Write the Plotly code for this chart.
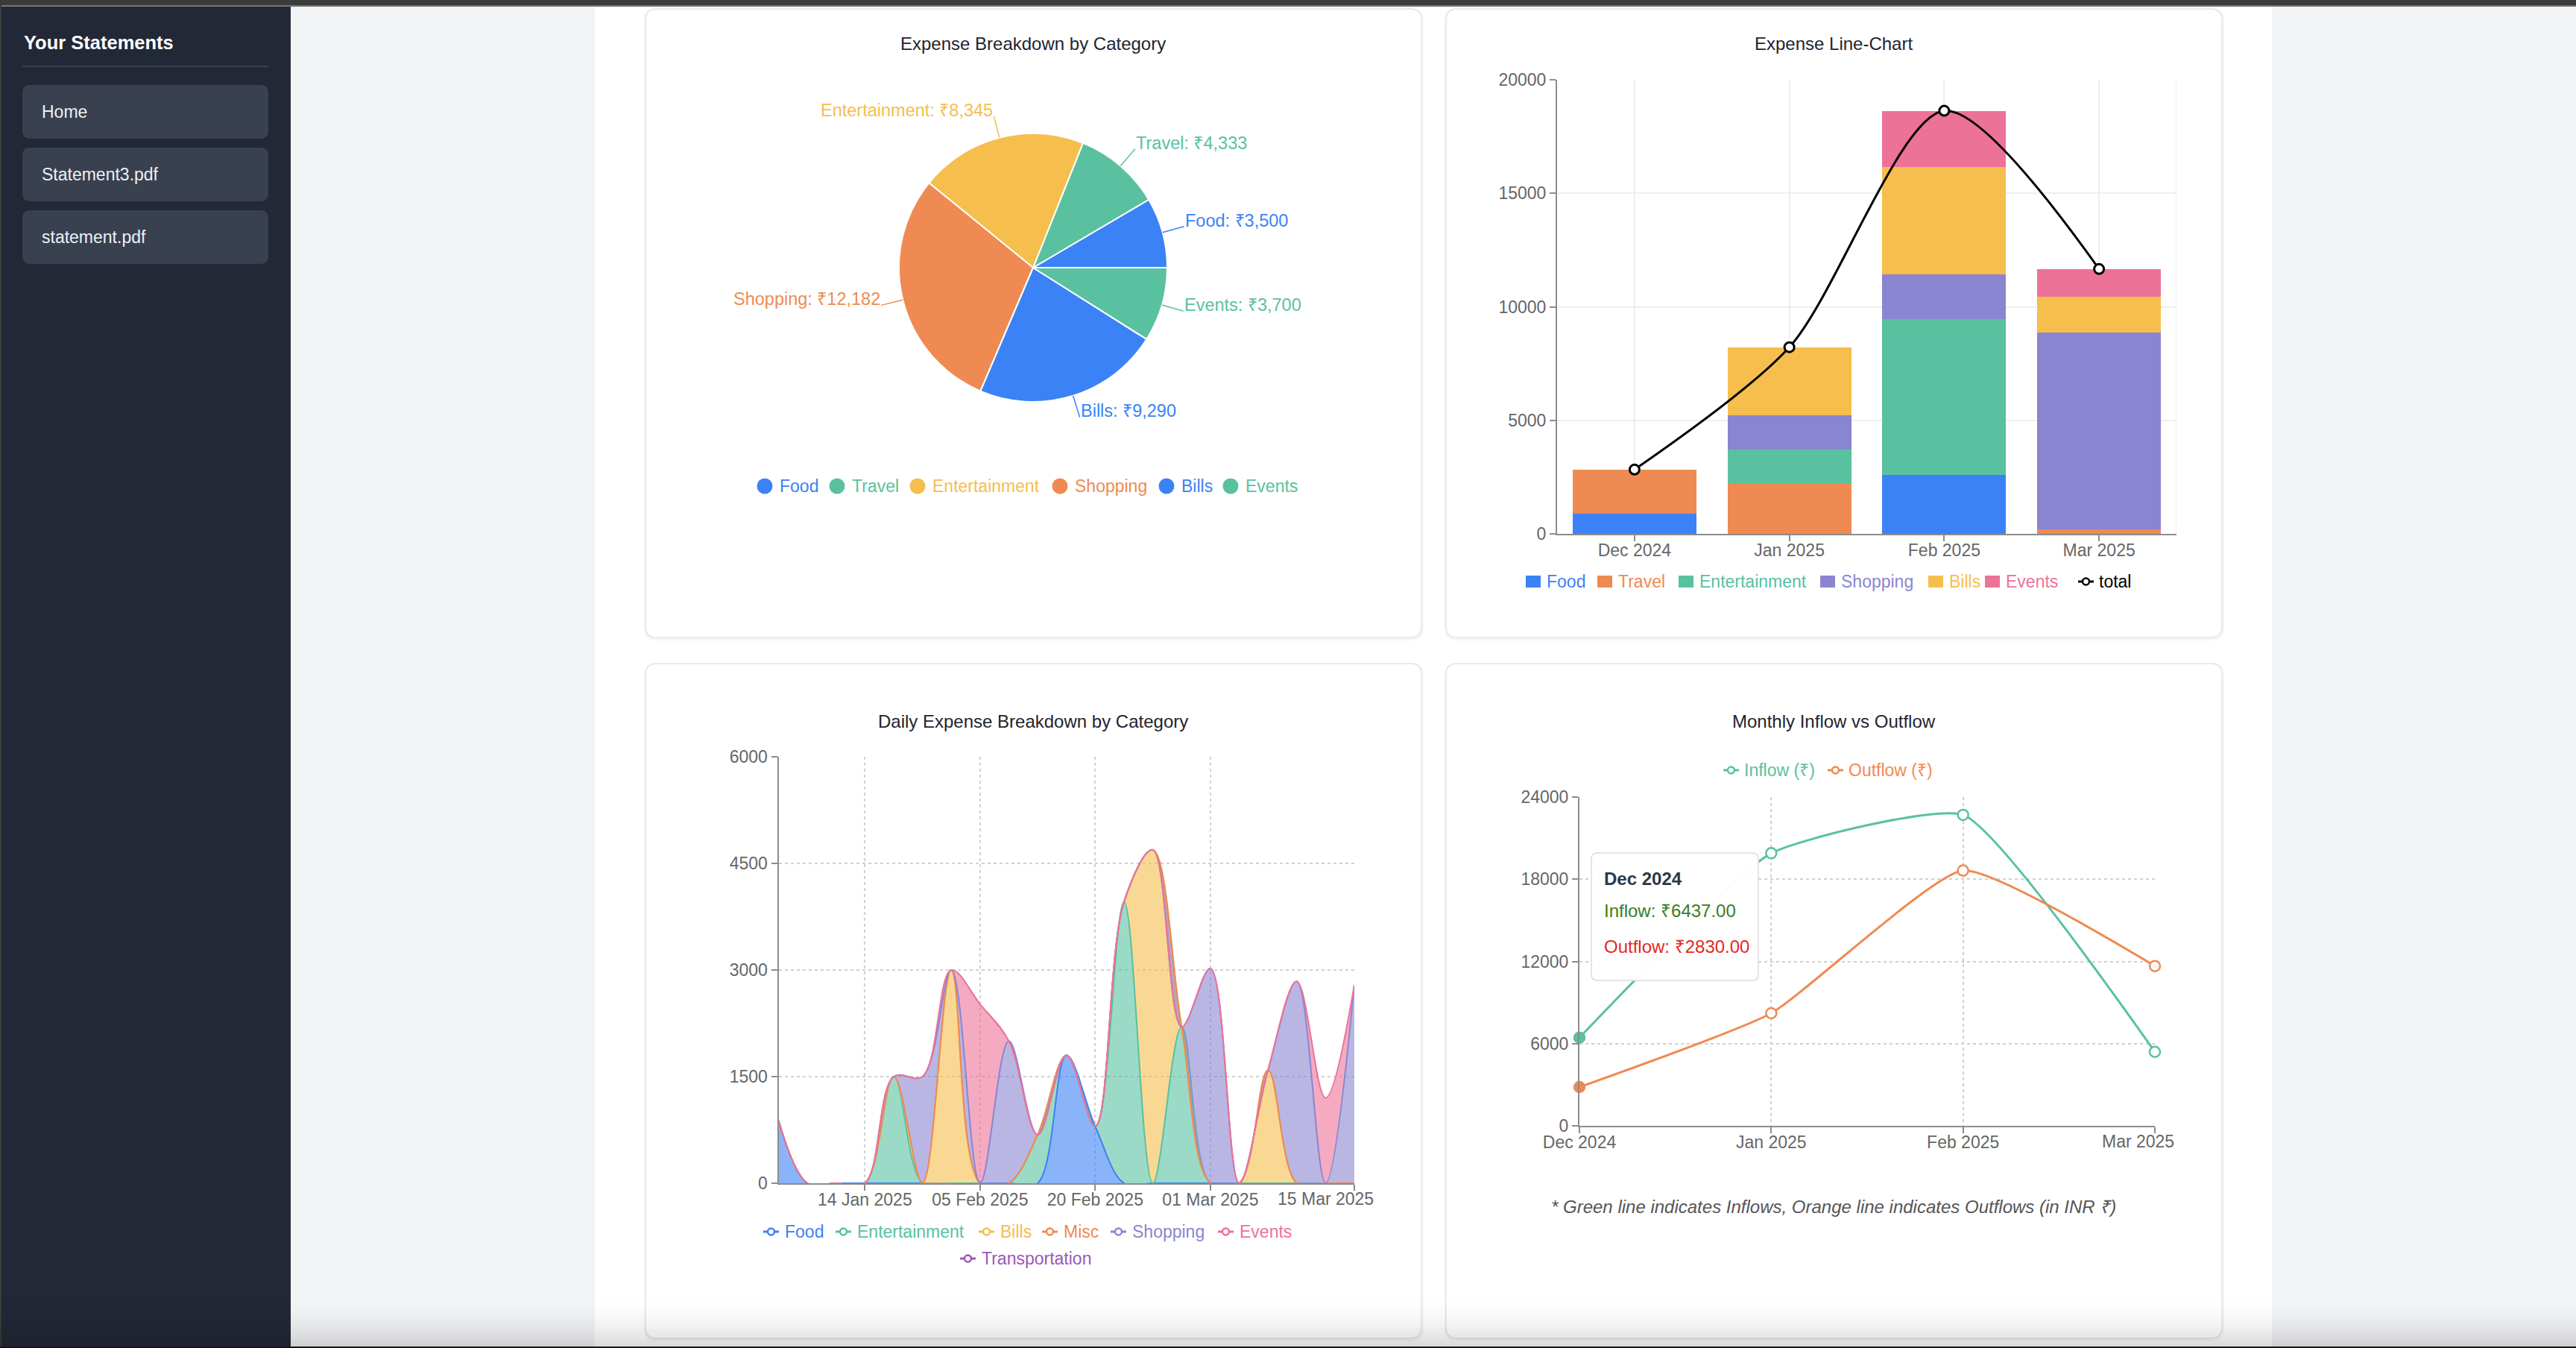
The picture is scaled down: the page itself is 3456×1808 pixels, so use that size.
import math
import plotly.graph_objects as go

# ---------------- data ----------------
pie_labels = ["Food", "Travel", "Entertainment", "Shopping", "Bills", "Events"]
pie_values = [3500, 4333, 8345, 12182, 9290, 3700]

months = ["Dec 2024", "Jan 2025", "Feb 2025", "Mar 2025"]
bar_series = ["Food", "Travel", "Entertainment", "Shopping", "Bills", "Events"]
bar_food = [900, 0, 2600, 0]
bar_travel = [1930, 2220, 0, 183]
bar_entertainment = [0, 1500, 6845, 0]
bar_shopping = [0, 1500, 2000, 8682]
bar_bills = [0, 3000, 4700, 1590]
bar_events = [0, 0, 2490, 1210]
total_name = "total"
bar_y_ticks = [0, 5000, 10000, 15000, 20000]

daily_dates = ["29 Dec 2024", "03 Jan 2025", "08 Jan 2025", "14 Jan 2025", "18 Jan 2025",
               "24 Jan 2025", "30 Jan 2025", "05 Feb 2025", "09 Feb 2025", "13 Feb 2025",
               "17 Feb 2025", "20 Feb 2025", "22 Feb 2025", "24 Feb 2025", "27 Feb 2025",
               "01 Mar 2025", "04 Mar 2025", "07 Mar 2025", "10 Mar 2025", "12 Mar 2025",
               "15 Mar 2025"]
daily_series = ["Food", "Entertainment", "Bills", "Misc", "Shopping", "Events", "Transportation"]
daily_food =          [880, 0, 0, 0, 0, 0, 0, 0, 0, 0, 1800, 800, 0, 0, 0, 0, 0, 0, 0, 0, 0]
daily_entertainment = [0, 0, 0, 0, 1500, 0, 0, 0, 0, 680, 0, 0, 3960, 0, 2200, 0, 0, 0, 0, 0, 0]
daily_bills =         [0, 0, 0, 0, 0, 0, 3000, 0, 0, 0, 0, 0, 0, 4690, 0, 0, 0, 1590, 0, 0, 0]
daily_misc =          [0, 0, 0, 0, 0, 0, 0, 0, 0, 0, 0, 0, 0, 0, 0, 0, 0, 0, 0, 0, 0]
daily_shopping =      [0, 0, 0, 0, 0, 1500, 0, 0, 2000, 0, 0, 0, 0, 0, 0, 3020, 0, 0, 2840, 0, 2790]
daily_events =        [0, 0, 0, 0, 0, 0, 0, 2520, 0, 0, 0, 0, 0, 0, 0, 0, 0, 0, 0, 1200, 0]
daily_transport =     [0, 0, 0, 0, 0, 0, 0, 0, 0, 0, 0, 0, 0, 0, 0, 0, 0, 0, 0, 0, 0]
daily_tick_labels = ["14 Jan 2025", "05 Feb 2025", "20 Feb 2025", "01 Mar 2025", "15 Mar 2025"]
daily_y_ticks = [0, 1500, 3000, 4500, 6000]

flow_names = ["Inflow (₹)", "Outflow (₹)"]
inflow = [6437, 19900, 22700, 5400]
outflow = [2830, 8220, 18635, 11665]
flow_y_ticks = [0, 6000, 12000, 18000, 24000]

sidebar_title = "Your Statements"
statements = ["Home", "Statement3.pdf", "statement.pdf"]

titles = ["Expense Breakdown by Category", "Expense Line-Chart",
          "Daily Expense Breakdown by Category", "Monthly Inflow vs Outflow"]
footnote = "* Green line indicates Inflows, Orange line indicates Outflows (in INR ₹)"

# ---------------- style ----------------
W, H = 3456, 1808
FONT = "Liberation Sans, Helvetica, Arial, sans-serif"
BLUE, GREEN, YELLOW = "#3b82f6", "#59c1a0", "#f5be4d"
ORANGE, PURPLE, PINK, VIOLET = "#ef8a52", "#8a85d1", "#ed7298", "#9b59b6"
TICK = "#666666"
AXIS = "#8c8c8c"

pie_colors = [BLUE, GREEN, YELLOW, ORANGE, BLUE, GREEN]
bar_colors = [BLUE, ORANGE, GREEN, PURPLE, YELLOW, PINK]
daily_colors = [BLUE, GREEN, YELLOW, ORANGE, PURPLE, PINK, VIOLET]
flow_colors = [GREEN, ORANGE]


def X(p):
    return p / W


def Y(p):
    return 1 - p / H


def rgba(hexc, a):
    h = hexc.lstrip("#")
    return "rgba(%d,%d,%d,%.2f)" % (int(h[0:2], 16), int(h[2:4], 16), int(h[4:6], 16), a)


shapes, annotations = [], []
NONE = "rgba(0,0,0,0)"


def add_rect(x0, y0, x1, y1, fill, line_color=None, lw=0, layer="below"):
    shapes.append(dict(type="rect", xref="paper", yref="paper", x0=X(x0), x1=X(x1),
                       y0=Y(y1), y1=Y(y0), fillcolor=fill,
                       line=dict(color=line_color or NONE, width=lw), layer=layer))


def add_rrect(x0, y0, x1, y1, r, fill, line_color=None, lw=0, layer="below"):
    def P(x, y):
        return "%.6f,%.6f" % (X(x), Y(y))
    path = ("M %s L %s Q %s %s L %s Q %s %s L %s Q %s %s L %s Q %s %s Z" % (
        P(x0 + r, y0), P(x1 - r, y0), P(x1, y0), P(x1, y0 + r),
        P(x1, y1 - r), P(x1, y1), P(x1 - r, y1), P(x0 + r, y1),
        P(x0, y1), P(x0, y1 - r), P(x0, y0 + r), P(x0, y0), P(x0 + r, y0)))
    shapes.append(dict(type="path", xref="paper", yref="paper", path=path, fillcolor=fill,
                       line=dict(color=line_color or NONE, width=lw), layer=layer))


def add_line(x0, y0, x1, y1, color, width, layer="above"):
    shapes.append(dict(type="line", xref="paper", yref="paper", x0=X(x0), y0=Y(y0),
                       x1=X(x1), y1=Y(y1), line=dict(color=color, width=width), layer=layer))


def add_circle(cx, cy, r, fill, line_color=None, lw=0, layer="above"):
    shapes.append(dict(type="circle", xref="paper", yref="paper", x0=X(cx - r), x1=X(cx + r),
                       y0=Y(cy + r), y1=Y(cy - r), fillcolor=fill,
                       line=dict(color=line_color or NONE, width=lw), layer=layer))


def add_text(x, y, s, size=23, color=TICK, xanchor="left", yanchor="middle"):
    annotations.append(dict(xref="paper", yref="paper", x=X(x), y=Y(y), text=s, showarrow=False,
                            xanchor=xanchor, yanchor=yanchor, borderpad=0,
                            font=dict(family=FONT, size=size, color=color)))


# ---------------- page chrome ----------------
add_rect(0, 0, W, 8, "#3b3b3b")
add_rect(0, 7, W, 9, "#777777")
add_rect(0, 9, 390, H, "#222836")
add_rect(0, 0, 2, H, "#3b3b3b")
add_rect(798, 9, 3048, H, "#ffffff")

add_text(31, 57, "<b>%s</b>" % sidebar_title, size=25.5, color="#ffffff")
add_line(30, 89, 360, 89, "#3a4252", 2, layer="below")
btn_tops = [114, 198, 282]
for name, top in zip(statements, btn_tops):
    add_rrect(30, top, 360, top + 72, 11, "#394050")
    add_text(55, top + 36, name, size=23, color="#eef0f3")

cards = [(866, 12, 1907, 855), (1940, 12, 2981, 855), (866, 890, 1907, 1795), (1940, 890, 2981, 1795)]
for (x0, y0, x1, y1) in cards:
    add_rrect(x0 - 2, y0 - 1, x1 + 3, y1 + 4, 16, "rgba(0,0,0,0.035)")
    add_rrect(x0, y0, x1, y1, 15, "#ffffff", "#e3e5e9", 1.5)

title_pos = [(1386, 59), (2460, 59), (1386, 967), (2460, 967)]
for t, (tx, ty) in zip(titles, title_pos):
    add_text(tx, ty, t, size=24, color="#1f2430", xanchor="center")

fig = go.Figure()

# ---------------- pie ----------------
PIE_CX, PIE_CY, PIE_R = 1386, 359, 180
pie_total = sum(pie_values)
fig.add_trace(go.Pie(
    labels=pie_labels, values=pie_values, sort=False, direction="counterclockwise",
    rotation=90 - pie_values[0] / pie_total * 360,
    domain=dict(x=[X(PIE_CX - PIE_R), X(PIE_CX + PIE_R)], y=[Y(PIE_CY + PIE_R), Y(PIE_CY - PIE_R)]),
    marker=dict(colors=pie_colors, line=dict(color="white", width=2)),
    textinfo="none", hoverinfo="skip", showlegend=False))

cum = 0
for lab, val, col in zip(pie_labels, pie_values, pie_colors):
    mid = (cum + val / 2) / pie_total * 2 * math.pi
    cum += val
    ca, sa = math.cos(mid), math.sin(mid)
    lx0, ly0 = PIE_CX + PIE_R * ca, PIE_CY - PIE_R * sa
    lx1, ly1 = PIE_CX + (PIE_R + 30) * ca, PIE_CY - (PIE_R + 30) * sa
    add_line(lx0, ly0, lx1, ly1, col, 1.5)
    add_text(lx1, ly1 - 8, "%s: ₹%s" % (lab, format(val, ",")), size=23.5, color=col,
             xanchor="left" if ca >= 0 else "right")

pie_leg_cx = [1026, 1123, 1231, 1422, 1565, 1651]
for lab, col, cx in zip(pie_labels, pie_colors, pie_leg_cx):
    add_circle(cx, 652, 10.5, col)
    add_text(cx + 19, 652, lab, size=23, color=col)

# ---------------- stacked bar + total ----------------
bar_data = [bar_food, bar_travel, bar_entertainment, bar_shopping, bar_bills, bar_events]
for name, vals, col in zip(bar_series, bar_data, bar_colors):
    fig.add_trace(go.Bar(x=months, y=vals, name=name, marker=dict(color=col, line=dict(width=0)),
                         xaxis="x", yaxis="y", showlegend=False, hoverinfo="skip"))
totals = [sum(v) for v in zip(*bar_data)]
fig.add_trace(go.Scatter(x=months, y=totals, name=total_name, mode="lines+markers",
                         line=dict(color="black", width=3, shape="spline", smoothing=0.8),
                         marker=dict(size=13, color="white", line=dict(color="black", width=3)),
                         xaxis="x", yaxis="y", showlegend=False, hoverinfo="skip", cliponaxis=False))
shapes.append(dict(type="line", xref="x", yref="y", x0=3.5, x1=3.5, y0=0, y1=20000,
                   line=dict(color="#eeeeee", width=2), layer="below"))

bar_leg_x = [2047, 2143, 2252, 2442, 2587, 2663]
for lab, col, lx in zip(bar_series, bar_colors, bar_leg_x):
    add_rect(lx, 772, lx + 20, 788, col, layer="above")
    add_text(lx + 27, 780, lab, size=23, color=col)
add_line(2788, 780, 2809, 780, "black", 3)
add_circle(2798.5, 780, 4.5, "white", "black", 2.5)
add_text(2815, 780, total_name, size=23, color="black")

# ---------------- daily stacked area ----------------
daily_data = [daily_food, daily_entertainment, daily_bills, daily_misc, daily_shopping,
              daily_events, daily_transport]
for i, (name, vals, col) in enumerate(zip(daily_series, daily_data, daily_colors)):
    fig.add_trace(go.Scatter(x=daily_dates, y=vals, name=name, mode="lines", stackgroup="daily",
                             line=dict(color=col, width=0 if i == len(daily_series) - 1 else 2,
                                       shape="spline", smoothing=1),
                             fillcolor=rgba(col, 0.6), xaxis="x2", yaxis="y2",
                             showlegend=False, hoverinfo="skip"))

daily_leg = [(1024, 1652), (1121, 1652), (1313, 1652), (1398, 1652), (1490, 1652), (1634, 1652),
             (1288, 1688)]
for lab, col, (lx, ly) in zip(daily_series, daily_colors, daily_leg):
    add_line(lx, ly, lx + 21, ly, col, 3)
    add_circle(lx + 10.5, ly, 4.5, "white", col, 2.5)
    add_text(lx + 28, ly, lab, size=23, color=col)

# last tick label is pulled inside the card (as the source chart does)
daily_ticktext = daily_tick_labels[:-1] + [""]
add_text(1778, 1608, daily_tick_labels[-1], size=23, color=TICK, xanchor="center")

# ---------------- inflow / outflow ----------------
hover_idx = 0
for name, vals, col in zip(flow_names, [inflow, outflow], flow_colors):
    mcols = [col if i == hover_idx else "white" for i in range(len(vals))]
    fig.add_trace(go.Scatter(x=months, y=vals, name=name, mode="lines+markers",
                             line=dict(color=col, width=3, shape="spline", smoothing=0.45),
                             marker=dict(size=14, color=mcols, line=dict(color=col, width=2.5)),
                             xaxis="x3", yaxis="y3", showlegend=False, hoverinfo="skip",
                             cliponaxis=False))

flow_ticktext = months[:-1] + [""]
add_text(2868, 1531, months[-1], size=23, color=TICK, xanchor="center")

flow_leg_x = [2312, 2452]
for lab, col, lx in zip(flow_names, flow_colors, flow_leg_x):
    add_line(lx, 1033, lx + 21, 1033, col, 3)
    add_circle(lx + 10.5, 1033, 4.5, "white", col, 2.5)
    add_text(lx + 27, 1033, lab, size=23, color=col)

# tooltip
add_rrect(2135, 1144, 2359, 1315, 8, "rgba(255,255,255,0.97)", "#dddddd", 1.5, layer="above")
add_text(2151, 1178, "<b>%s</b>" % months[hover_idx], size=24, color="#2d3748")
add_text(2151, 1221, "Inflow: ₹%.2f" % inflow[hover_idx], size=24, color="#3a7d22")
add_text(2151, 1269, "Outflow: ₹%.2f" % outflow[hover_idx], size=24, color="#e8271e")
add_text(2460, 1618, "<i>%s</i>" % footnote, size=24, color="#555555", xanchor="center")

# bottom fade and frame
for k in range(17):
    y0 = 1738 + k * 4
    a = 0.14 * ((k + 1) / 17) ** 2
    add_rect(0, y0, W, y0 + 4, "rgba(0,0,0,%.3f)" % a, layer="above")
add_rect(0, 1806, W, H, "#151515", layer="above")

# ---------------- axes ----------------
tickfont = dict(family=FONT, size=23, color=TICK)
common = dict(showline=True, linecolor=AXIS, linewidth=2, ticks="outside", ticklen=8,
              tickwidth=2, tickcolor=AXIS, tickfont=tickfont, zeroline=False, fixedrange=True,
              automargin=False)
xcommon = dict(common, ticklabelstandoff=-8)

fig.update_layout(
    width=W, height=H, autosize=False, margin=dict(l=0, r=0, t=0, b=0, pad=0, autoexpand=False),
    paper_bgcolor="#f3f4f6", plot_bgcolor="rgba(0,0,0,0)",
    font=dict(family=FONT), showlegend=False, barmode="stack", bargap=0.2,
    shapes=shapes, annotations=annotations,
    xaxis=dict(domain=[X(2089), X(2920)], anchor="y", type="category",
               categoryorder="array", categoryarray=months, range=[-0.5, 3.5],
               showgrid=True, gridcolor="#eeeeee", gridwidth=2, **xcommon),
    yaxis=dict(domain=[Y(716), Y(107)], anchor="x", range=[0, 20000], tickmode="array",
               tickvals=bar_y_ticks, tickformat="d", showgrid=True, gridcolor="#eeeeee",
               gridwidth=2, **common),
    xaxis2=dict(domain=[X(1044.5), X(1817)], anchor="y2", type="category",
                categoryorder="array", categoryarray=daily_dates, range=[0, len(daily_dates) - 1],
                tickmode="array", tickvals=daily_tick_labels, ticktext=daily_ticktext,
                showgrid=True, gridcolor="#d0d0d0", gridwidth=2, griddash="4px,4px", **xcommon),
    yaxis2=dict(domain=[Y(1587), Y(1015)], anchor="x2", range=[0, 6000], tickmode="array",
                tickvals=daily_y_ticks, tickformat="d", showgrid=True, gridcolor="#d0d0d0",
                gridwidth=2, griddash="4px,4px", **common),
    xaxis3=dict(domain=[X(2119), X(2891)], anchor="y3", type="category",
                categoryorder="array", categoryarray=months, range=[0, len(months) - 1],
                tickmode="array", tickvals=months, ticktext=flow_ticktext,
                showgrid=True, gridcolor="#d0d0d0", gridwidth=2, griddash="4px,4px", **xcommon),
    yaxis3=dict(domain=[Y(1510), Y(1069)], anchor="x3", range=[0, 24000], tickmode="array",
                tickvals=flow_y_ticks, tickformat="d", showgrid=True, gridcolor="#d0d0d0",
                gridwidth=2, griddash="4px,4px", **common),
)

fig.write_html("out.html", config={"displayModeBar": False})
